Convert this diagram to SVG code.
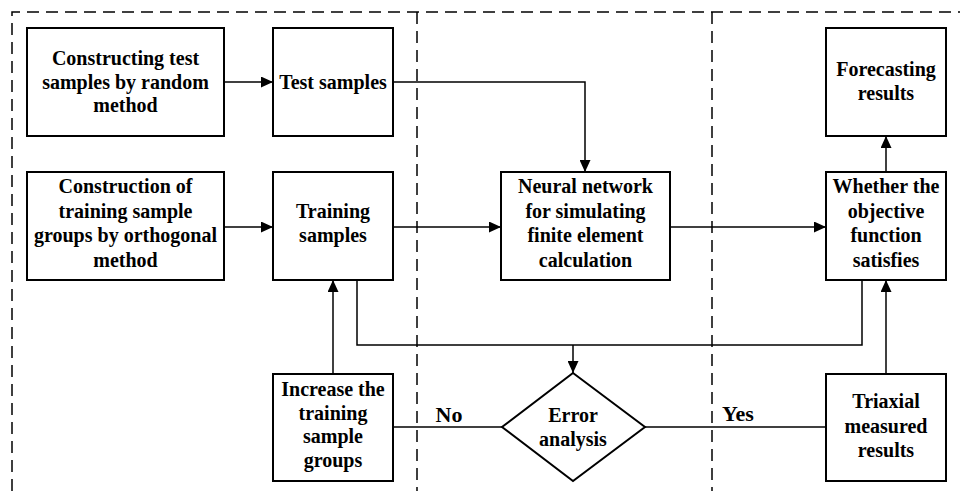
<svg xmlns="http://www.w3.org/2000/svg" width="960" height="491" viewBox="0 0 960 491">
<style>
.box{fill:#fff;stroke:#000;stroke-width:2}
.t{font-family:"Liberation Serif","Times New Roman",serif;font-weight:bold;font-size:20px;text-anchor:middle;fill:#000}
.lbl{font-size:22px}
.c{fill:none;stroke:#000;stroke-width:1.5}
.d{fill:none;stroke:#000;stroke-width:1.5;stroke-dasharray:12 7}
</style>
<defs>
<marker id="ah" markerUnits="userSpaceOnUse" markerWidth="12" markerHeight="11" refX="12" refY="5.5" orient="auto">
<path d="M0,0 L12,5.5 L0,11 z" fill="#000"/>
</marker>
</defs>
<rect width="960" height="491" fill="#fff"/>
<g id="frame">
<path class="d" d="M12,491 V12 H960"/>
<path class="d" d="M417,12 V491"/>
<path class="d" d="M712,12 V491"/>
</g>
<g id="connectors">
<path class="c" d="M224,82 H273" marker-end="url(#ah)"/>
<path class="c" d="M224,227 H273" marker-end="url(#ah)"/>
<path class="c" d="M393,82 H585 V172" marker-end="url(#ah)"/>
<path class="c" d="M393,227 H501" marker-end="url(#ah)"/>
<path class="c" d="M670,227 H826" marker-end="url(#ah)"/>
<path class="c" d="M886,172 V136" marker-end="url(#ah)"/>
<path class="c" d="M357,280 V345 H862 V280"/>
<path class="c" d="M573,345 V373" marker-end="url(#ah)"/>
<path class="c" d="M333,375 V280" marker-end="url(#ah)"/>
<path class="c" d="M393,427 H502"/>
<path class="c" d="M645,427 H826"/>
<path class="c" d="M886,374 V280" marker-end="url(#ah)"/>
<text class="t lbl" x="449" y="422">No</text>
<text class="t lbl" x="738" y="421">Yes</text>
</g>
<g id="n1">
<rect class="box" x="27" y="28" width="197" height="108"/>
<text class="t" x="125.5" y="65">Constructing test</text>
<text class="t" x="125.5" y="88.5">samples by random</text>
<text class="t" x="125.5" y="112">method</text>
</g>
<g id="n2">
<rect class="box" x="273" y="28" width="120" height="108"/>
<text class="t" x="333" y="89">Test samples</text>
</g>
<g id="n3">
<rect class="box" x="27" y="172" width="197" height="108"/>
<text class="t" x="125.5" y="193">Construction of</text>
<text class="t" x="125.5" y="217.5">training sample</text>
<text class="t" x="125.5" y="242">groups by orthogonal</text>
<text class="t" x="125.5" y="266.5">method</text>
</g>
<g id="n4">
<rect class="box" x="273" y="172" width="120" height="108"/>
<text class="t" x="333" y="218">Training</text>
<text class="t" x="333" y="242">samples</text>
</g>
<g id="n5">
<rect class="box" x="501" y="172" width="169" height="108"/>
<text class="t" x="585.5" y="193">Neural network</text>
<text class="t" x="585.5" y="217.5">for simulating</text>
<text class="t" x="585.5" y="242">finite element</text>
<text class="t" x="585.5" y="266.5">calculation</text>
</g>
<g id="n6">
<rect class="box" x="826" y="28" width="120" height="108"/>
<text class="t" x="886" y="76">Forecasting</text>
<text class="t" x="886" y="100">results</text>
</g>
<g id="n7">
<rect class="box" x="826" y="172" width="120" height="108"/>
<text class="t" x="886" y="193">Whether the</text>
<text class="t" x="886" y="217.5">objective</text>
<text class="t" x="886" y="242">function</text>
<text class="t" x="886" y="266.5">satisfies</text>
</g>
<g id="n8">
<rect class="box" x="273" y="374" width="120" height="107"/>
<text class="t" x="333" y="396">Increase the</text>
<text class="t" x="333" y="419.5">training</text>
<text class="t" x="333" y="443">sample</text>
<text class="t" x="333" y="466.5">groups</text>
</g>
<g id="n9">
<path class="box" d="M573,373 L645,427 L573,481 L502,427 Z"/>
<text class="t" x="573" y="422">Error</text>
<text class="t" x="573" y="446">analysis</text>
</g>
<g id="n10">
<rect class="box" x="826" y="374" width="120" height="107"/>
<text class="t" x="886" y="408">Triaxial</text>
<text class="t" x="886" y="433">measured</text>
<text class="t" x="886" y="457">results</text>
</g>
</svg>
